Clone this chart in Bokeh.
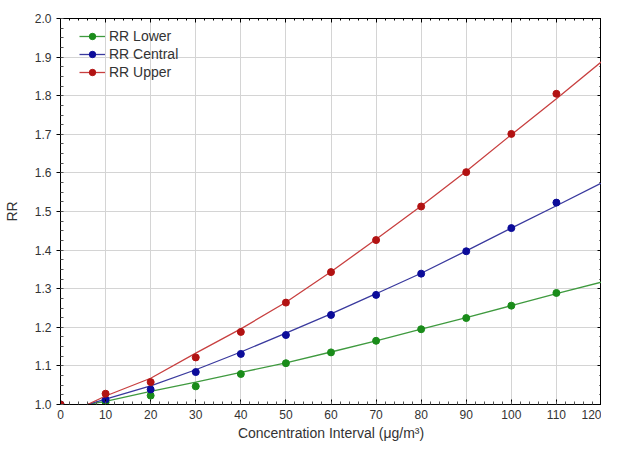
from bokeh.plotting import figure
from bokeh.models import LinearAxis, Range1d, FixedTicker, Legend, LegendItem, PrintfTickFormatter
from bokeh.embed import file_html
from bokeh.resources import INLINE

# Observed points
x_pts = [0, 10, 20, 30, 40, 50, 60, 70, 80, 90, 100, 110]
rr_lower = [1.0, 1.006, 1.023, 1.047, 1.079, 1.107, 1.135, 1.165, 1.195, 1.224, 1.256, 1.289]
rr_central = [1.0, 1.013, 1.039, 1.084, 1.131, 1.180, 1.232, 1.284, 1.339, 1.397, 1.457, 1.523]
rr_upper = [1.0, 1.028, 1.058, 1.122, 1.188, 1.264, 1.343, 1.426, 1.513, 1.602, 1.701, 1.805]

# Fitted curves
x_fit = [6, 10, 20, 30, 40, 50, 60, 70, 80, 90, 100, 110, 120]
fit_lower = [1.0, 1.008, 1.034, 1.058, 1.083, 1.108, 1.136, 1.165, 1.195, 1.225, 1.256, 1.287, 1.317]
fit_central = [1.0, 1.014, 1.048, 1.090, 1.136, 1.185, 1.235, 1.287, 1.340, 1.398, 1.457, 1.515, 1.574]
fit_upper = [1.0, 1.022, 1.068, 1.133, 1.196, 1.265, 1.344, 1.428, 1.514, 1.604, 1.699, 1.792, 1.888]

x_ticks = [0, 10, 20, 30, 40, 50, 60, 70, 80, 90, 100, 110, 120]
y_ticks = [1.0, 1.1, 1.2, 1.3, 1.4, 1.5, 1.6, 1.7, 1.8, 1.9, 2.0]
x_minor = [i * 2 for i in range(61)]
y_minor = [round(1.0 + i * 0.025, 3) for i in range(41)]

series_names = ["RR Lower", "RR Central", "RR Upper"]
line_colors = ["#3f9a3f", "#3a3a9e", "#c84040"]
pt_colors = ["#1a8c1a", "#0c0c9a", "#b21212"]

p = figure(width=601, height=443, output_backend="svg", toolbar_location=None,
           x_range=Range1d(0, 120), y_range=Range1d(1.0, 2.0),
           min_border_left=53, min_border_right=0, min_border_top=18, min_border_bottom=0)

p.outline_line_color = "black"
p.outline_line_width = 1

for ax in (p.xaxis[0], p.yaxis[0]):
    ax.axis_line_color = "black"
    ax.major_tick_line_color = "black"
    ax.minor_tick_line_color = "#555555"
    ax.major_label_text_font = "Liberation Sans"
    ax.major_label_text_font_size = "12px"
    ax.major_label_text_color = "#333333"
    ax.axis_label_text_font = "Liberation Sans"
    ax.axis_label_text_font_size = "14px"
    ax.axis_label_text_font_style = "normal"
    ax.axis_label_text_color = "#333333"

p.xaxis[0].ticker = FixedTicker(ticks=x_ticks, minor_ticks=x_minor)
p.yaxis[0].ticker = FixedTicker(ticks=y_ticks, minor_ticks=y_minor)
p.yaxis[0].formatter = PrintfTickFormatter(format="%.1f")
p.xaxis[0].major_tick_in = 5
p.xaxis[0].major_tick_out = 0
p.xaxis[0].minor_tick_in = 3
p.xaxis[0].minor_tick_out = 0
p.xaxis[0].major_label_standoff = 5
p.yaxis[0].major_tick_in = 0
p.yaxis[0].major_tick_out = 4
p.yaxis[0].minor_tick_in = 3
p.yaxis[0].minor_tick_out = 0
p.yaxis[0].major_label_standoff = 5
p.xaxis[0].axis_label = "Concentration Interval (\u03bcg/m\u00b3)"
p.yaxis[0].axis_label = "RR"
p.xaxis[0].axis_label_standoff = 3
p.yaxis[0].axis_label_standoff = 12

# mirrored axes (ticks only)
top = LinearAxis(ticker=FixedTicker(ticks=x_ticks, minor_ticks=x_minor),
                 major_label_overrides={t: "" for t in x_ticks},
                 major_tick_in=4, major_tick_out=0,
                 minor_tick_in=2, minor_tick_out=0, axis_line_color="black",
                 major_label_standoff=0, major_label_text_font_size="1px")
right = LinearAxis(ticker=FixedTicker(ticks=y_ticks, minor_ticks=y_minor),
                   major_label_overrides={t: "" for t in y_ticks},
                   major_tick_in=4, major_tick_out=0,
                   minor_tick_in=2, minor_tick_out=0, axis_line_color="black",
                   major_label_standoff=0, major_label_text_font_size="1px")
p.add_layout(top, "above")
p.add_layout(right, "right")

p.xgrid.ticker = FixedTicker(ticks=x_ticks)
p.ygrid.ticker = FixedTicker(ticks=y_ticks)
p.grid.grid_line_color = "#d4d4d4"
p.grid.grid_line_width = 1

items = []
for name, lc, pc, ys, fy in zip(series_names, line_colors, pt_colors,
                                 [rr_lower, rr_central, rr_upper],
                                 [fit_lower, fit_central, fit_upper]):
    l = p.line(x_fit, fy, line_color=lc, line_width=1.3)
    c = p.scatter(x_pts, ys, size=7, fill_color=pc, line_color=pc)
    items.append(LegendItem(label=name, renderers=[l, c]))

legend = Legend(items=items, location=(17, 322), background_fill_alpha=0,
                border_line_alpha=0, label_text_font="Liberation Sans",
                label_text_font_size="14px", label_text_color="#333333",
                glyph_width=26, glyph_height=16, spacing=2, padding=2,
                label_standoff=4, label_height=16, margin=0)
p.add_layout(legend)

open("out.html", "w").write(file_html(p, INLINE))
